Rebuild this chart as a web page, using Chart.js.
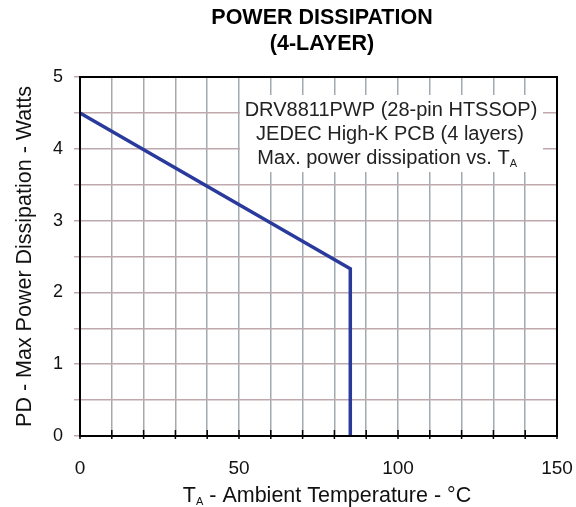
<!DOCTYPE html>
<html>
<head>
<meta charset="utf-8">
<script src="https://cdn.jsdelivr.net/npm/chart.js@4"></script>
<style>
  html, body { margin: 0; padding: 0; background: #fff; }
  #wrap { width: 576px; height: 507px; }
</style>
</head>
<body>
<div id="wrap"><canvas id="grafica" width="576" height="507"></canvas></div>
<script>
// datos
const temperaturas = [0, 85, 85];
const potencias = [4.5, 2.33, 0];
const etiquetasX = [0, 50, 100, 150];
const tituloLineas = ['POWER DISSIPATION', '(4-LAYER)'];
const notaLineas = ['DRV8811PWP (28-pin HTSSOP)', 'JEDEC High-K PCB (4 layers)', 'Max. power dissipation vs. T'];

const fuente = '"Liberation Sans", Arial, sans-serif';

const textosPlugin = {
  id: 'textos',
  afterDraw(chart) {
    const ctx = chart.ctx;
    const a = chart.chartArea;
    const xs = chart.scales.x;
    ctx.save();

    // marco
    ctx.strokeStyle = '#000';
    ctx.lineWidth = 2;
    ctx.strokeRect(a.left, a.top, a.right - a.left, a.bottom - a.top);

    // marcas hacia dentro en eje x
    ctx.lineWidth = 1.5;
    for (let v = 0; v <= 150; v += 10) {
      const px = xs.getPixelForValue(v);
      ctx.beginPath();
      ctx.moveTo(px, a.bottom + 3);
      ctx.lineTo(px, a.bottom - 6);
      ctx.stroke();
    }

    // titulo
    ctx.fillStyle = '#000';
    ctx.textAlign = 'center';
    ctx.textBaseline = 'middle';
    ctx.font = 'bold 21.5px ' + fuente;
    ctx.fillText(tituloLineas[0], 322, 18);
    ctx.fillText(tituloLineas[1], 322, 44);

    // caja de nota
    ctx.fillStyle = '#fff';
    ctx.fillRect(240, 95, 303, 77);
    ctx.fillStyle = '#222';
    ctx.font = '20px ' + fuente;
    ctx.fillText(notaLineas[0], 391, 110);
    ctx.fillText(notaLineas[1], 390, 134);
    ctx.textAlign = 'left';
    const w3 = ctx.measureText(notaLineas[2]).width;
    const x3 = 388 - (w3 + 9) / 2;
    ctx.fillText(notaLineas[2], x3, 158);
    ctx.font = '11px ' + fuente;
    ctx.fillText('A', x3 + w3, 164);

    // titulo eje x
    ctx.font = '21.5px ' + fuente;
    ctx.fillStyle = '#111';
    const t1 = 'T';
    const t2 = ' - Ambient Temperature - °C';
    const wt1 = ctx.measureText(t1).width;
    const wt2 = ctx.measureText(t2).width;
    ctx.font = '11px ' + fuente;
    const wa = ctx.measureText('A').width;
    let x0 = 327 - (wt1 + wa + wt2) / 2;
    ctx.font = '21.5px ' + fuente;
    ctx.fillText(t1, x0, 496);
    ctx.font = '11px ' + fuente;
    ctx.fillText('A', x0 + wt1, 502);
    ctx.font = '21.5px ' + fuente;
    ctx.fillText(t2, x0 + wt1 + wa, 496);

    ctx.restore();
  }
};

const ctx = document.getElementById('grafica').getContext('2d');
const chart = new Chart(ctx, {
  type: 'scatter',
  data: {
    datasets: [{
      label: 'PD',
      data: temperaturas.map((t, i) => ({ x: t, y: potencias[i] })),
      showLine: true,
      borderColor: '#2a3a9c',
      borderWidth: 3.5,
      pointRadius: 0,
      fill: false,
      tension: 0
    }]
  },
  options: {
    responsive: false,
    animation: false,
    layout: { padding: { top: 77, right: 19, left: 0, bottom: 0 } },
    plugins: {
      legend: { display: false },
      tooltip: { enabled: false }
    },
    scales: {
      x: {
        type: 'linear',
        min: 0,
        max: 150,
        afterFit: s => { s.height = 71; s.paddingLeft = 0; s.paddingRight = 0; },
        afterBuildTicks: s => {
          const t = [];
          for (let v = 0; v <= 150; v += 10) t.push({ value: v });
          s.ticks = t;
        },
        ticks: {
          autoSkip: false,
          maxRotation: 0,
          padding: 21,
          color: '#111',
          font: { size: 19, family: fuente },
          callback: v => etiquetasX.includes(v) ? String(v) : ''
        },
        grid: { color: '#a2aab0', lineWidth: 1.5, drawTicks: false },
        border: { display: false }
      },
      y: {
        min: 0,
        max: 5,
        afterFit: s => { s.width = 80; s.paddingTop = 0; s.paddingBottom = 0; },
        afterBuildTicks: s => {
          const t = [];
          for (let v = 0; v <= 5; v += 0.5) t.push({ value: v });
          s.ticks = t;
        },
        ticks: {
          autoSkip: false,
          padding: 11,
          color: '#111',
          font: { size: 18, family: fuente },
          callback: v => Number.isInteger(v) ? String(v) : ''
        },
        grid: { color: '#bfa9ac', lineWidth: 1.5, tickLength: 6 },
        border: { display: false },
        title: {
          display: true,
          text: 'PD - Max Power Dissipation - Watts',
          color: '#111',
          font: { size: 21.5, family: fuente },
          padding: { top: 12, bottom: 0 }
        }
      }
    }
  },
  plugins: [textosPlugin]
});
</script>
</body>
</html>
